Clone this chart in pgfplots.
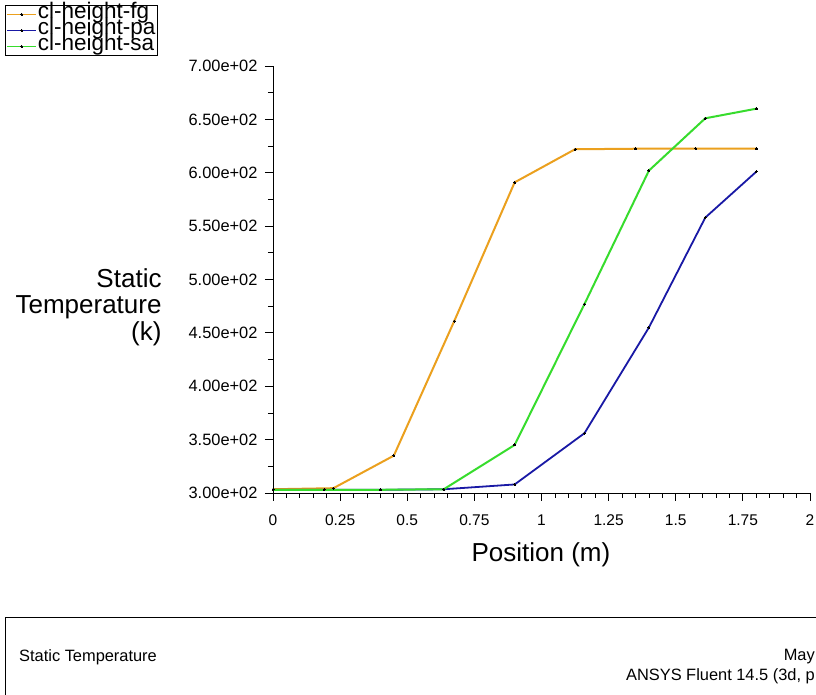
\documentclass[border=0pt]{standalone}
\usepackage{pgfplots}
\pgfplotsset{compat=1.18}
\usepackage{fontspec}
\setmainfont{Liberation Sans}
\definecolor{fgc}{RGB}{235,160,30}
\definecolor{pac}{RGB}{25,25,165}
\definecolor{sac}{RGB}{55,220,45}
\begin{document}
\begin{tikzpicture}[x=1pt,y=1pt]
\useasboundingbox (0,0) rectangle (816,695);
\fill[white] (0,0) rectangle (816,695);
\begin{axis}[
  at={(273pt,202pt)}, anchor=south west,
  scale only axis, width=537pt, height=427pt,
  xmin=0, xmax=2, ymin=300, ymax=700,
  axis lines=left, axis line style={-, line width=0.8pt},
  tick align=outside, major tick length=8pt, minor tick length=5pt,
  tick style={black, line width=0.8pt},
  xtick={0,0.25,0.5,0.75,1,1.25,1.5,1.75,2},
  xticklabels={0,0.25,0.5,0.75,1,1.25,1.5,1.75,2},
  minor x tick num=4,
  ytick={300,350,400,450,500,550,600,650,700},
  yticklabels={3.00e+02,3.50e+02,4.00e+02,4.50e+02,5.00e+02,5.50e+02,6.00e+02,6.50e+02,7.00e+02},
  minor y tick num=1,
  xticklabel style={font=\fontsize{15.5}{15.5}\selectfont, yshift=-10pt},
  yticklabel style={font=\fontsize{16.4}{16.4}\selectfont, xshift=-4pt},
  xlabel={Position (m)},
  ylabel={Static\\Temperature\\(k)},
  xlabel style={at={(axis description cs:0.499,-0.145)}, anchor=center, font=\fontsize{26}{26}\selectfont},
  ylabel style={rotate=-90, at={(axis description cs:-0.201,0.436)}, anchor=east, align=right, font=\fontsize{26}{26.5}\selectfont},
  legend style={at={(axis description cs:-0.4991,1.1429)}, anchor=north west, draw=black, line width=0.8pt,
    inner sep=1pt, row sep=0pt, font=\fontsize{22.5}{16}\selectfont,
    nodes={inner sep=1pt, text height=11pt, text depth=3pt, font=\fontsize{22.5}{16}\selectfont}},
  legend cell align=left,
  legend image code/.code={\draw[mark repeat=2,mark phase=2,#1,line width=1.5pt] plot coordinates {(0pt,0pt) (14.5pt,0pt) (29pt,0pt)};},
  every axis plot/.append style={mark=*, mark size=1pt, mark options={black, fill=black, line width=0pt}},
]
\addplot[fgc, line width=2pt] coordinates {
 (0,303.5) (0.225,304.5) (0.45,335) (0.675,461) (0.9,591) (1.125,622) (1.35,622.5) (1.575,622.5) (1.8,622.5)};
\addlegendentry{cl-height-fg}
\addplot[pac, line width=1.8pt] coordinates {
 (0,303) (0.19,303) (0.40,303) (0.636,303.5) (0.9,308) (1.16,356) (1.4,455) (1.61,558) (1.8,601)};
\addlegendentry{cl-height-pa}
\addplot[sac, line width=2pt] coordinates {
 (0,303) (0.19,303) (0.40,303) (0.636,303.5) (0.9,345) (1.16,477) (1.4,602) (1.61,651) (1.8,660)};
\addlegendentry{cl-height-sa}
\end{axis}
\draw[line width=0.8pt] (816,78) -- (5,78) -- (5,-5);
\node[anchor=west, inner sep=0pt, font=\fontsize{16.4}{16.4}\selectfont] at (19,38) {Static Temperature};
\node[anchor=east, inner sep=0pt, font=\fontsize{16.4}{16.4}\selectfont] at (815,38) {May};
\node[anchor=east, inner sep=0pt, font=\fontsize{16.4}{16.4}\selectfont] at (815,19) {ANSYS Fluent 14.5 (3d, p};
\end{tikzpicture}
\end{document}
